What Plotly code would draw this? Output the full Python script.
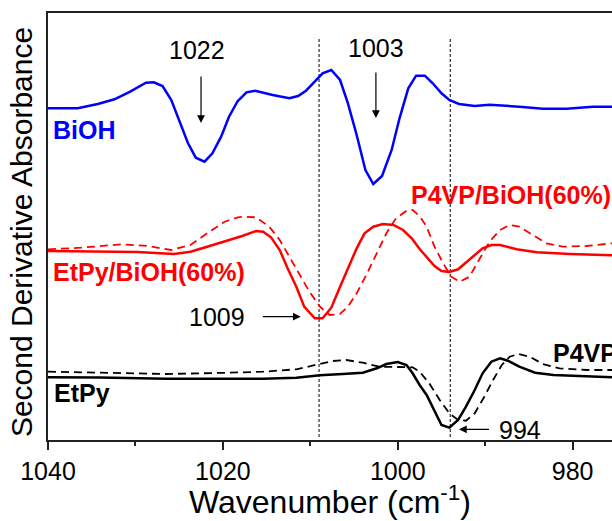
import plotly.graph_objects as go

# ---------------- data ----------------
# Wavenumber (cm-1) and second-derivative absorbance (arbitrary, offset units)
biooh_wn = [1040.0, 1036.6, 1034.3, 1032.4, 1030.6, 1028.8, 1027.9, 1026.9, 1025.9, 1025.0,
            1024.0, 1023.1, 1022.1, 1021.2, 1020.2, 1019.3, 1018.3, 1017.3, 1016.3, 1014.3,
            1012.4, 1011.4, 1010.5, 1009.5, 1008.6, 1007.6, 1006.6, 1005.7, 1004.7, 1003.7,
            1002.8, 1001.8, 1000.7, 999.8, 998.8, 997.9, 996.9, 996.0, 995.0, 994.1,
            993.0, 991.2, 989.5, 986.1, 983.4, 980.7, 977.7, 975.5]
biooh_y = [331.7, 331.7, 336.0, 340.7, 348.3, 357.3, 357.7, 354.0, 340.0, 320.0,
           297.0, 282.3, 278.3, 286.7, 303.3, 323.3, 339.0, 347.7, 349.3, 345.0,
           341.7, 344.0, 349.3, 358.3, 366.7, 370.0, 360.0, 336.7, 305.0, 270.0,
           256.0, 264.0, 290.0, 321.7, 351.7, 364.3, 364.3, 356.7, 346.7, 340.0,
           336.0, 334.0, 335.3, 333.3, 331.3, 331.3, 333.3, 333.3]

etpy_biooh_wn = [1040.0, 1036.2, 1032.4, 1029.8, 1025.6, 1023.7, 1021.8, 1019.8, 1018.3, 1017.7,
                 1016.2, 1015.4, 1014.5, 1013.5, 1012.6, 1011.6, 1010.7, 1009.5, 1008.6, 1007.6,
                 1006.6, 1005.7, 1004.7, 1003.8, 1002.8, 1001.7, 1000.5, 999.4, 998.4, 997.5,
                 996.7, 995.8, 995.0, 994.1, 993.1, 991.8, 990.3, 989.3, 988.3, 986.4,
                 984.1, 980.3, 975.5]
etpy_biooh_y = [189.0, 188.7, 188.0, 188.0, 186.0, 188.3, 193.3, 198.3, 202.5, 204.3,
                209.0, 208.3, 202.7, 190.0, 171.7, 153.3, 133.3, 121.7, 121.7, 132.3,
                153.3, 171.7, 191.7, 206.7, 213.3, 216.0, 215.0, 210.0, 201.7, 191.0,
                183.3, 174.0, 169.0, 168.0, 170.7, 180.0, 191.7, 195.0, 195.0, 190.7,
                187.7, 186.0, 184.7]

p4vp_biooh_wn = [1040.0, 1036.2, 1031.6, 1028.6, 1025.9, 1023.7, 1021.8, 1019.8, 1018.3, 1017.7,
                 1016.2, 1014.7, 1013.5, 1012.4, 1011.2, 1010.1, 1008.9, 1007.8, 1006.6, 1005.7,
                 1004.7, 1003.6, 1002.4, 1001.3, 1000.2, 999.0, 998.3, 997.5, 996.7, 995.8,
                 994.8, 993.9, 992.9, 991.8, 990.6, 989.5, 988.3, 987.2, 986.1, 984.5,
                 983.0, 981.1, 978.4, 975.5]
p4vp_biooh_y = [190.7, 192.3, 195.7, 194.0, 190.0, 195.0, 206.7, 218.3, 222.7, 223.3,
                222.7, 213.3, 200.0, 183.3, 165.0, 148.3, 133.3, 125.0, 126.0, 133.3,
                146.7, 165.0, 186.7, 206.7, 221.7, 229.3, 230.0, 224.0, 213.3, 193.3,
                176.7, 163.3, 158.3, 163.3, 181.7, 198.3, 210.0, 215.0, 213.3, 205.0,
                196.7, 193.3, 194.0, 196.7]

etpy_wn = [1040.0, 1034.1, 1026.5, 1019.2, 1015.4, 1011.6, 1008.9, 1006.3, 1004.0, 1002.4,
           1001.3, 1000.0, 999.0, 998.3, 997.5, 996.7, 995.8, 995.0, 994.1, 993.1,
           992.2, 991.2, 990.3, 989.3, 988.3, 987.4, 986.1, 984.3, 982.2, 978.4, 975.5]
etpy_y = [62.7, 62.5, 61.3, 61.3, 61.3, 62.3, 64.7, 66.0, 67.3, 71.7,
          76.0, 78.0, 75.0, 66.7, 55.0, 45.0, 28.3, 15.0, 12.3, 20.0,
          33.3, 50.0, 66.7, 78.3, 81.7, 79.3, 73.3, 67.3, 65.0, 64.0, 62.7]

p4vp_wn = [1040.0, 1034.1, 1026.5, 1019.2, 1015.4, 1011.6, 1008.9, 1007.4, 1005.9, 1004.0,
           1002.1, 1000.2, 998.3, 997.5, 996.4, 995.2, 994.1, 993.1, 992.2, 991.2,
           990.1, 989.1, 988.1, 987.2, 986.2, 984.9, 983.4, 981.5, 978.4, 975.5]
p4vp_y = [68.3, 67.0, 66.0, 67.3, 68.3, 70.7, 76.0, 79.0, 80.0, 77.3,
          73.3, 72.7, 72.7, 68.3, 56.7, 40.0, 26.7, 20.0, 19.3, 26.7,
          43.3, 60.0, 75.0, 83.3, 86.0, 83.3, 76.0, 71.7, 70.0, 70.0]

x_ticks = [1040, 1020, 1000, 980]
x_tick_labels = ["1040", "1020", "1000", "980"]
marked_peaks = [1009, 994]

# ---------------- figure ----------------
FONT = "Arial, Liberation Sans, Helvetica, sans-serif"
BLUE = "#0000FF"
RED = "#FF0000"
BLACK = "#000000"

fig = go.Figure()
fig.add_trace(go.Scatter(x=biooh_wn, y=biooh_y, mode="lines",
                         line=dict(color=BLUE, width=2.5), name="BiOH"))
fig.add_trace(go.Scatter(x=p4vp_biooh_wn, y=p4vp_biooh_y, mode="lines",
                         line=dict(color=RED, width=1.8, dash="8px,5px"), name="P4VP/BiOH(60%)"))
fig.add_trace(go.Scatter(x=etpy_biooh_wn, y=etpy_biooh_y, mode="lines",
                         line=dict(color=RED, width=2.5), name="EtPy/BiOH(60%)"))
fig.add_trace(go.Scatter(x=p4vp_wn, y=p4vp_y, mode="lines",
                         line=dict(color=BLACK, width=1.8, dash="8px,5px"), name="P4VP"))
fig.add_trace(go.Scatter(x=etpy_wn, y=etpy_y, mode="lines",
                         line=dict(color=BLACK, width=2.5), name="EtPy"))

for pk in marked_peaks:
    fig.add_shape(type="line", x0=pk, x1=pk, y0=3, y1=403, xref="x", yref="y",
                  line=dict(color=BLACK, width=1, dash="3px,2px"), layer="below")

ann = []
# arrows
arrows = [
    (1022.5, 317, 1022.5, 365),   # 1022 down arrow
    (1002.5, 322, 1002.5, 369),   # 1003 down arrow
    (1011.1, 123.3, 1015.6, 123.3),  # 1009 right arrow
    (993.0, 10.7, 989.4, 10.7),   # 994 left arrow
]
for hx, hy, tx, ty in arrows:
    ann.append(dict(x=hx, y=hy, ax=tx, ay=ty, xref="x", yref="y", axref="x", ayref="y",
                    text="", showarrow=True, arrowhead=2, arrowsize=1.3, arrowwidth=1.2,
                    arrowcolor=BLACK))
# numbers
for txt, x, y in [("1022", 1023.0, 390), ("1003", 1002.5, 392),
                  ("1009", 1020.7, 123.3), ("994", 986.0, 10)]:
    ann.append(dict(x=x, y=y, xref="x", yref="y", text=txt, showarrow=False,
                    xanchor="center", yanchor="middle",
                    font=dict(family=FONT, size=25, color=BLACK)))
# series labels
for txt, x, y, col in [("BiOH", 1039.7, 310, BLUE),
                       ("EtPy/BiOH(60%)", 1039.7, 168, RED),
                       ("P4VP/BiOH(60%)", 998.7, 245, RED),
                       ("EtPy", 1039.6, 47, BLACK),
                       ("P4VP", 982.5, 87, BLACK)]:
    ann.append(dict(x=x, y=y, xref="x", yref="y", text="<b>%s</b>" % txt, showarrow=False,
                    xanchor="left", yanchor="middle",
                    font=dict(family=FONT, size=25, color=col)))
# axis titles
ann.append(dict(x=0.5, y=-0.14, xref="paper", yref="paper",
                text="Wavenumber (cm<sup>-1</sup>)", showarrow=False,
                xanchor="center", yanchor="middle",
                font=dict(family=FONT, size=32, color=BLACK)))
ann.append(dict(x=-0.047, y=0.488, xref="paper", yref="paper",
                text="Second Derivative Absorbance", showarrow=False, textangle=-90,
                xanchor="center", yanchor="middle",
                font=dict(family=FONT, size=30, color=BLACK)))

fig.update_layout(
    width=612, height=521,
    margin=dict(l=48, r=0, t=13, b=81),
    paper_bgcolor="white", plot_bgcolor="white",
    showlegend=False,
    annotations=ann,
    font=dict(family=FONT, color=BLACK),
)
fig.update_xaxes(range=[1040, 975.5], tickmode="array", tickvals=x_ticks, ticktext=x_tick_labels,
                 ticks="outside", ticklen=8, tickwidth=1.5, tickcolor="#222",
                 minor=dict(ticks="outside", ticklen=4, tickwidth=1.5, tickcolor="#222", dtick=10,
                            tick0=1040, showgrid=False),
                 showline=True, linecolor="#222", linewidth=1.5, mirror=True,
                 showgrid=False, zeroline=False,
                 tickfont=dict(family=FONT, size=25, color=BLACK))
fig.update_yaxes(range=[0, 427], showticklabels=False, ticks="",
                 showline=True, linecolor="#222", linewidth=1.5,
                 showgrid=False, zeroline=False)

fig.write_html("out.html")
